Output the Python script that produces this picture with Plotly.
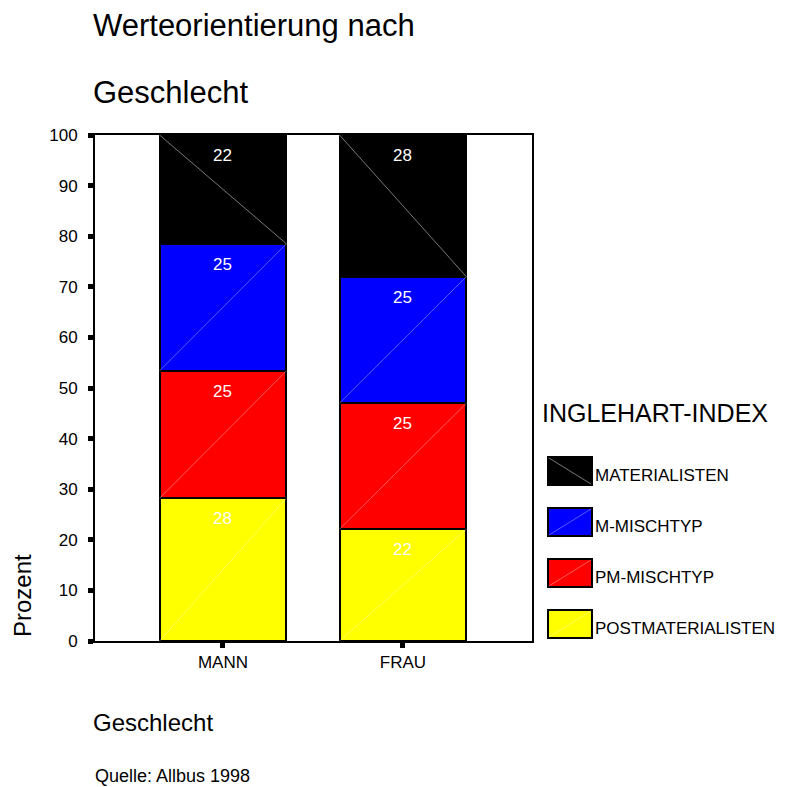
import plotly.graph_objects as go

# data
categories = ["MANN", "FRAU"]
series_names = ["POSTMATERIALISTEN", "PM-MISCHTYP", "M-MISCHTYP", "MATERIALISTEN"]
postmat = [28.2, 22.1]
pm_misch = [25.2, 24.9]
m_misch = [25.1, 25.0]
materialisten = [21.5, 28.0]
labels = [["28", "22"], ["25", "25"], ["25", "25"], ["22", "28"]]
y_ticks = [0, 10, 20, 30, 40, 50, 60, 70, 80, 90, 100]

colors = ["#FFFF00", "#FF0000", "#0000FF", "#000000"]
series_vals = [postmat, pm_misch, m_misch, materialisten]
FONT = "Liberation Sans, Arial, sans-serif"
bar_w = 0.705

fig = go.Figure()

for name, vals, col in zip(series_names, series_vals, colors):
    fig.add_trace(go.Bar(
        x=list(range(len(categories))), y=vals, name=name,
        marker=dict(color=col, line=dict(color="black", width=2)),
        width=bar_w, showlegend=False, hoverinfo="skip"
    ))


def diag_color(col):
    return "rgba(150,150,150,0.8)" if col == "#000000" else "rgba(255,255,255,0.35)"


# faint diagonal lines inside segments + white value labels
annotations = []
bottoms = [0.0] * len(categories)
for k, (vals, col) in enumerate(zip(series_vals, colors)):
    for i, v in enumerate(vals):
        b, t = bottoms[i], bottoms[i] + v
        x0, x1 = i - bar_w / 2, i + bar_w / 2
        ys = [t, b] if col == "#000000" else [b, t]
        fig.add_trace(go.Scatter(x=[x0, x1], y=ys, mode="lines",
                                 line=dict(color=diag_color(col), width=1),
                                 showlegend=False, hoverinfo="skip"))
        annotations.append(dict(x=i, y=t, xref="x", yref="y", text=labels[k][i],
                                showarrow=False, yanchor="top", yshift=-9,
                                font=dict(family=FONT, size=17, color="white")))
        bottoms[i] = t

# custom legend (positions given in page pixels)
annotations.append(dict(x=540, y=413, xref="paper", yref="paper", text="INGLEHART-INDEX",
                        showarrow=False, xanchor="left", yanchor="middle",
                        font=dict(family=FONT, size=25, color="black")))
shapes = []
legend_rows = list(zip(series_names, colors))[::-1]
for j, (name, col) in enumerate(legend_rows):
    yc = 471 + j * 51
    shapes.append(dict(type="rect", xref="paper", yref="paper",
                       x0=548, x1=592, y0=yc - 14, y1=yc + 14,
                       fillcolor=col, line=dict(color="black", width=2)))
    if col == "#000000":
        shapes.append(dict(type="line", xref="paper", yref="paper",
                           x0=549, x1=591, y0=yc - 13, y1=yc + 13,
                           line=dict(color=diag_color(col), width=1)))
    else:
        shapes.append(dict(type="line", xref="paper", yref="paper",
                           x0=549, x1=591, y0=yc + 13, y1=yc - 13,
                           line=dict(color=diag_color(col), width=1)))
    annotations.append(dict(x=593, y=yc + 4, xref="paper", yref="paper", text=name,
                            showarrow=False, xanchor="left", yanchor="middle",
                            font=dict(family=FONT, size=17, color="black")))

# titles and notes
notes = [
    dict(x=91, y=26, text="Werteorientierung nach", font=dict(family=FONT, size=31, color="black")),
    dict(x=91, y=92, text="Geschlecht", font=dict(family=FONT, size=31, color="black")),
    dict(x=91, y=722, text="Geschlecht", font=dict(family=FONT, size=24, color="black")),
    dict(x=93, y=776, text="Quelle: Allbus 1998", font=dict(family=FONT, size=18, color="black")),
]
for a in notes:
    a.update(xref="paper", yref="paper", showarrow=False, xanchor="left", yanchor="middle")
annotations += notes
annotations.append(dict(x=22, y=596, xref="paper", yref="paper", text="Prozent", textangle=-90,
                        showarrow=False, xanchor="center", yanchor="middle",
                        font=dict(family=FONT, size=24, color="black")))

# page body has an 8px margin: size the figure so it fits the window
OFF = 8
W = H = 787 - OFF
L, T = 95 - OFF, 135 - OFF
R = W - (532 - OFF)
B = H - (641 - OFF)
pw, ph = W - L - R, H - T - B


def px_x(v):
    return (v - OFF - L) / pw


def px_y(v):
    return (H - B - (v - OFF)) / ph


for a in annotations:
    if a.get("xref") == "paper":
        a["x"] = px_x(a["x"])
        a["y"] = px_y(a["y"])
for s in shapes:
    s["x0"], s["x1"] = px_x(s["x0"]), px_x(s["x1"])
    s["y0"], s["y1"] = px_y(s["y0"]), px_y(s["y1"])

fig.update_layout(
    barmode="stack",
    width=W, height=H,
    margin=dict(l=L, r=R, t=T, b=B),
    paper_bgcolor="white", plot_bgcolor="white",
    font=dict(family=FONT, color="black"),
    annotations=annotations, shapes=shapes,
    showlegend=False,
    xaxis=dict(
        tickvals=list(range(len(categories))), ticktext=categories,
        range=[-0.711, 1.717], showgrid=False, zeroline=False,
        showline=True, linecolor="black", linewidth=2, mirror=True,
        ticks="outside", ticklen=5, tickwidth=5, tickcolor="black",
        tickfont=dict(family=FONT, size=17, color="black"),
    ),
    yaxis=dict(
        tickvals=y_ticks, range=[0, 100], showgrid=False, zeroline=False,
        showline=True, linecolor="black", linewidth=2, mirror=True,
        ticks="outside", ticklen=5, tickwidth=5, tickcolor="black",
        ticklabelstandoff=7,
        tickfont=dict(family=FONT, size=17, color="black"),
    ),
)

fig.write_html("out.html")
